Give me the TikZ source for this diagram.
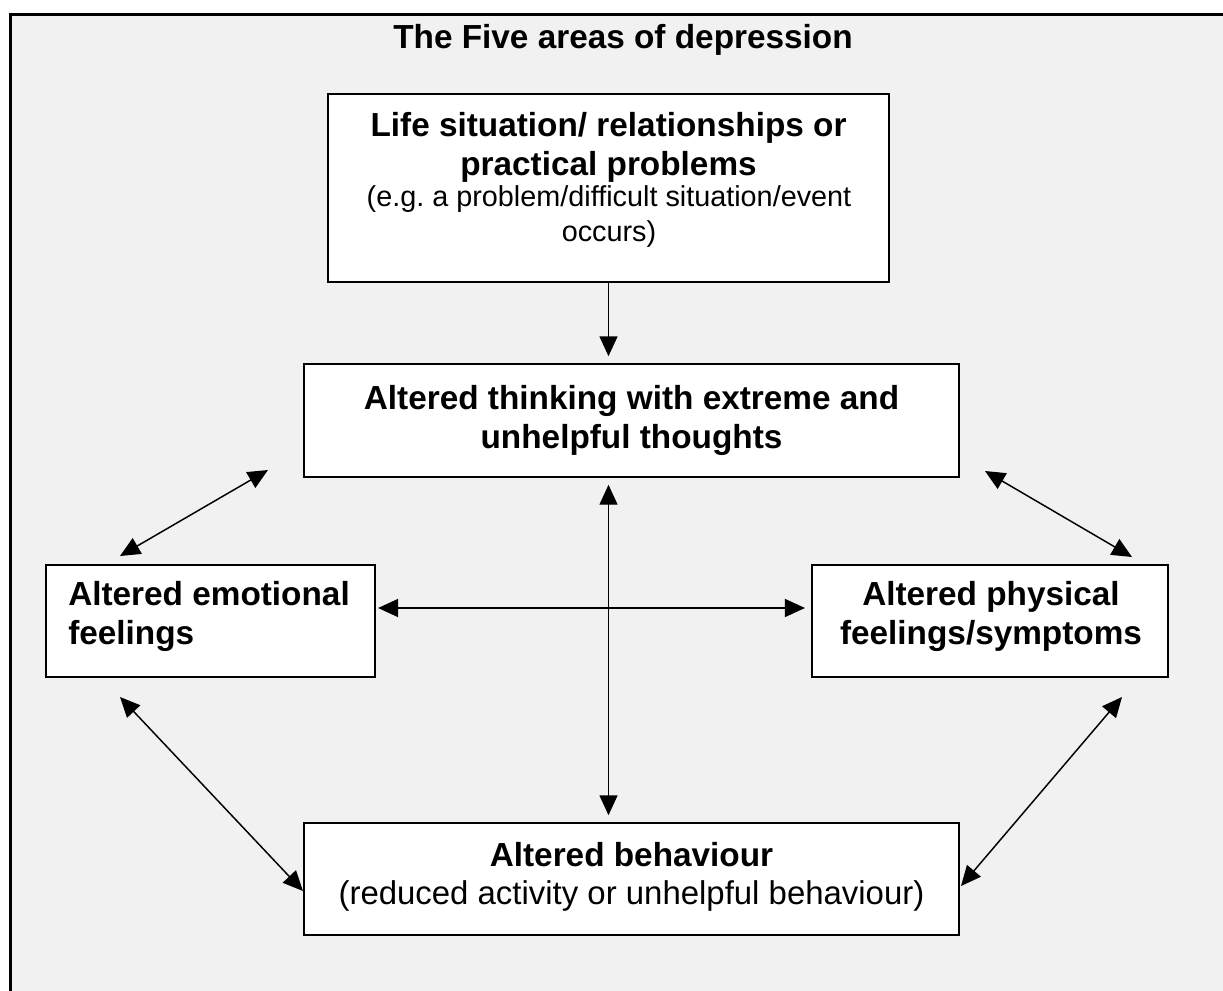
\documentclass[tikz,border=0pt]{standalone}
\usepackage{fontspec}
\setmainfont{Liberation Sans}
\usetikzlibrary{arrows.meta}
\definecolor{bggray}{HTML}{F1F1F1}
\frenchspacing
\begin{document}
\begin{tikzpicture}[x=0.75pt,y=-0.75pt,
  box/.style={draw=black, line width=1.6pt, fill=white, inner sep=0pt, rectangle},
  bt/.style={font=\fontsize{25}{29}\selectfont\bfseries, anchor=base, inner sep=0pt},
  st/.style={font=\fontsize{21.6}{25}\selectfont, anchor=base, inner sep=0pt},
  nt/.style={font=\fontsize{24.7}{29}\selectfont, anchor=base, inner sep=0pt},
  tip/.tip={Triangle[length=15pt,width=13.5pt]},
  arr/.style={line width=1.1pt, -tip},
  darr/.style={line width=1.1pt, tip-tip}
]
\useasboundingbox (0,0) rectangle (1223,991);
\clip (0,0) rectangle (1223,991);
\fill[white] (0,0) rectangle (1223,991);
\draw[line width=2.25pt, fill=bggray] (10,15) rectangle (1300,1060);

\node[box, minimum width=420.75pt, minimum height=141pt] (top) at (608.5,188) {};
\node[box, minimum width=491.25pt, minimum height=84.75pt] (think) at (631.5,420.5) {};
\node[box, minimum width=246.75pt, minimum height=84pt] (emo) at (210.5,621) {};
\node[box, minimum width=267pt, minimum height=84pt] (phys) at (990,621) {};
\node[box, minimum width=491.25pt, minimum height=84pt] (behav) at (631.5,879) {};

\node[bt] (title) at (623,49) {The Five areas of depression};
\node[bt] (t1) at (608.5,137) {Life situation/ relationships or};
\node[bt] (t2) at (608.5,176) {practical problems};
\node[st] (t3) at (609,207) {(e.g. a problem/difficult situation/event};
\node[st] (t4) at (609,242) {occurs)};
\node[bt] (k1) at (631.5,409) {Altered thinking with extreme and};
\node[bt] (k2) at (631.5,448) {unhelpful thoughts};
\node[bt, anchor=base west] (e1) at (68,605) {Altered emotional};
\node[bt, anchor=base west] (e2) at (68,644) {feelings};
\node[bt] (p1) at (991,605) {Altered physical};
\node[bt] (p2) at (991,644) {feelings/symptoms};
\node[bt] (b1) at (631.5,866) {Altered behaviour};
\node[nt] (b2) at (631.5,904) {(reduced activity or unhelpful behaviour)};

\coordinate (tl1) at (120,556); \coordinate (tl2) at (268,470);
\coordinate (tr1) at (985,471); \coordinate (tr2) at (1132,557);
\coordinate (bl1) at (120,697); \coordinate (bl2) at (303,891);
\coordinate (br1) at (1122,697); \coordinate (br2) at (961,886);

\draw[arr, shorten >=5pt] (top.south) -- (top.south |- think.north);
\draw[darr, shorten <=5pt, shorten >=5pt] (think.south -| top.south) -- (behav.north -| top.south);
\draw[darr, shorten <=1.5pt, shorten >=4.5pt] ([yshift=9.75pt]emo.east) -- ([yshift=9.75pt]emo.east -| phys.west);
\draw[darr] (tl1) -- (tl2);
\draw[darr] (tr1) -- (tr2);
\draw[darr] (bl1) -- (bl2);
\draw[darr] (br1) -- (br2);
\end{tikzpicture}
\end{document}
